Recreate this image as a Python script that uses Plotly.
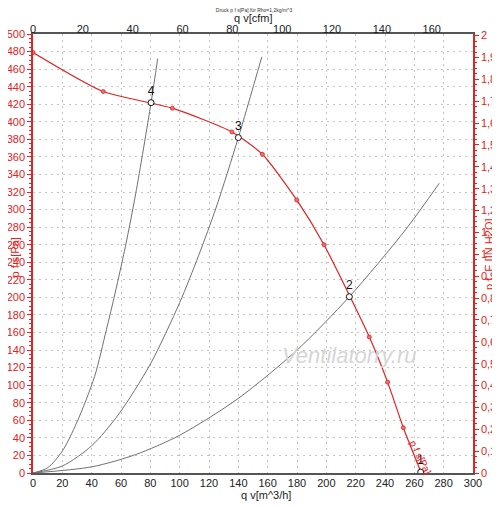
import plotly.graph_objects as go

# fan curve p f s [Pa] over q v [m^3/h]
fan_q = [0, 47.9, 95, 135.6, 156.4, 179.8, 198.4, 229.3, 241.8, 252.5, 264.3]
fan_p = [479, 434.5, 415.5, 388.5, 363, 311, 260, 155, 103.5, 51.6, 2]

# system curves (gray)
sysA_q = [0, 10, 20, 30, 42, 50, 56, 63, 70, 80.5, 85]
sysA_p = [0, 6, 25, 58, 110, 163, 205, 258, 318, 421.8, 472]
sysB_q = [0, 20, 40, 58, 80, 100, 113, 125, 140, 156]
sysB_p = [0, 8, 31, 66, 124, 194, 248, 303, 382, 474]
sysC_q = [0, 40, 70, 100, 140, 180, 215.7, 254, 277]
sysC_p = [0, 7, 21, 43, 85, 140, 200.8, 277, 330]

# operating points
op_q = [264.3, 215.7, 140, 80.5]
op_p = [1, 200.8, 382, 421.8]
op_labels = ["1", "2", "3", "4"]

CFM_PER_M3H = 1 / 1.699
INH2O_PER_PA = 1 / 249.089

RED = "#e32222"
GRAY = "#707070"
GRID = "#c4c4c4"
FONT = "Liberation Sans, Arial, sans-serif"

fig = go.Figure()

for q, p in [(sysA_q, sysA_p), (sysB_q, sysB_p), (sysC_q, sysC_p)]:
    fig.add_trace(go.Scatter(
        x=q, y=p, mode="lines", line=dict(color=GRAY, width=1, shape="spline", smoothing=0.8),
        hoverinfo="skip", showlegend=False,
    ))

fig.add_trace(go.Scatter(
    x=fan_q, y=fan_p, mode="lines+markers",
    line=dict(color=RED, width=1.2, shape="spline", smoothing=0.6),
    marker=dict(size=4, color="#f07070", line=dict(color=RED, width=0.8)),
    name="p f s[Pa]", showlegend=False,
))

fig.add_trace(go.Scatter(
    x=op_q, y=op_p, mode="markers+text", text=op_labels, textposition="top center",
    textfont=dict(size=12, color="#111111", family=FONT),
    marker=dict(size=6, color="white", line=dict(color="#111111", width=1)),
    showlegend=False,
))

# dummy trace so top / right axes get drawn
fig.add_trace(go.Scatter(
    x=[0], y=[0], xaxis="x2", yaxis="y2", mode="markers",
    marker=dict(opacity=0), hoverinfo="skip", showlegend=False,
))

# page body has an 8px margin, so the figure is a bit smaller than the window
fig.update_layout(
    width=492, height=499,
    margin=dict(l=25, r=27, t=26, b=34),
    paper_bgcolor="white", plot_bgcolor="white",
    separators=",.",
    showlegend=False,
    font=dict(family=FONT, size=11, color="#222222"),
    title=dict(
        text="Druck p f s[Pa] für Rho=1,2kg/m^3",
        font=dict(size=5, color="#333333"),
        x=0.5, xanchor="center", y=1 - 2.5 / 499, yanchor="middle", yref="container",
        automargin=False,
    ),
    xaxis=dict(
        range=[0, 300], dtick=20, tick0=0, automargin=False,
        showline=True, linecolor="#555555", linewidth=2,
        ticks="", ticklen=0, ticklabelstandoff=-1,
        showgrid=True, gridcolor=GRID, griddash="2px,4px", gridwidth=1,
        zeroline=False, tickfont=dict(size=11, color="#222222"),
    ),
    yaxis=dict(
        range=[0, 500], dtick=20, tick0=0, automargin=False,
        showline=True, linecolor=RED, linewidth=1.5,
        ticks="outside", ticklen=4, tickcolor=RED,
        minor=dict(dtick=5, ticks="outside", ticklen=2, tickcolor=RED, showgrid=False),
        showgrid=True, gridcolor=GRID, griddash="2px,4px", gridwidth=1,
        zeroline=False, tickfont=dict(size=11, color=RED),
    ),
    xaxis2=dict(
        overlaying="x", side="top", anchor="y", automargin=False,
        range=[0, 300 * CFM_PER_M3H], dtick=20, tick0=0,
        showline=True, linecolor="#555555", linewidth=2,
        ticks="", ticklen=0, ticklabelstandoff=-5,
        showgrid=False, zeroline=False, tickfont=dict(size=11, color="#222222"),
    ),
    yaxis2=dict(
        overlaying="y", side="right", anchor="x", automargin=False,
        range=[0, 500 * INH2O_PER_PA], dtick=0.1, tick0=0,
        showline=True, linecolor=RED, linewidth=1.5,
        ticks="outside", ticklen=4, tickcolor=RED,
        minor=dict(dtick=0.025, ticks="outside", ticklen=2, tickcolor=RED, showgrid=False),
        showgrid=False, zeroline=False, tickfont=dict(size=11, color=RED),
    ),
)

ann = [
    dict(text="q v[cfm]", x=0.5, y=(473 - 17.5) / 439, xref="paper", yref="paper",
         font=dict(size=11, color="#222222")),
    dict(text="q v[m^3/h]", x=0.53, y=(473 - 495) / 439, xref="paper", yref="paper",
         font=dict(size=11, color="#222222")),
    dict(text="p f s[Pa]", x=(14.5 - 33) / 440, y=(473 - 258) / 439, xref="paper", yref="paper",
         textangle=-90, font=dict(size=11, color=RED)),
    dict(text="p f_E [IN H2O]", x=(489 - 33) / 440, y=(473 - 254) / 439, xref="paper", yref="paper",
         textangle=-90, font=dict(size=11, color=RED)),
    dict(text="p f s[Pa]", x=264.2, y=17.7, xref="x", yref="y",
         textangle=64, font=dict(size=10, color=RED)),
    dict(text="<i>Ventilatorry.ru</i>", x=216, y=134, xref="x", yref="y",
         font=dict(size=22, color="#d6d6d6")),
]
for a in ann:
    fig.add_annotation(showarrow=False, xanchor="center", yanchor="middle", **a)

fig.write_html("out.html")
